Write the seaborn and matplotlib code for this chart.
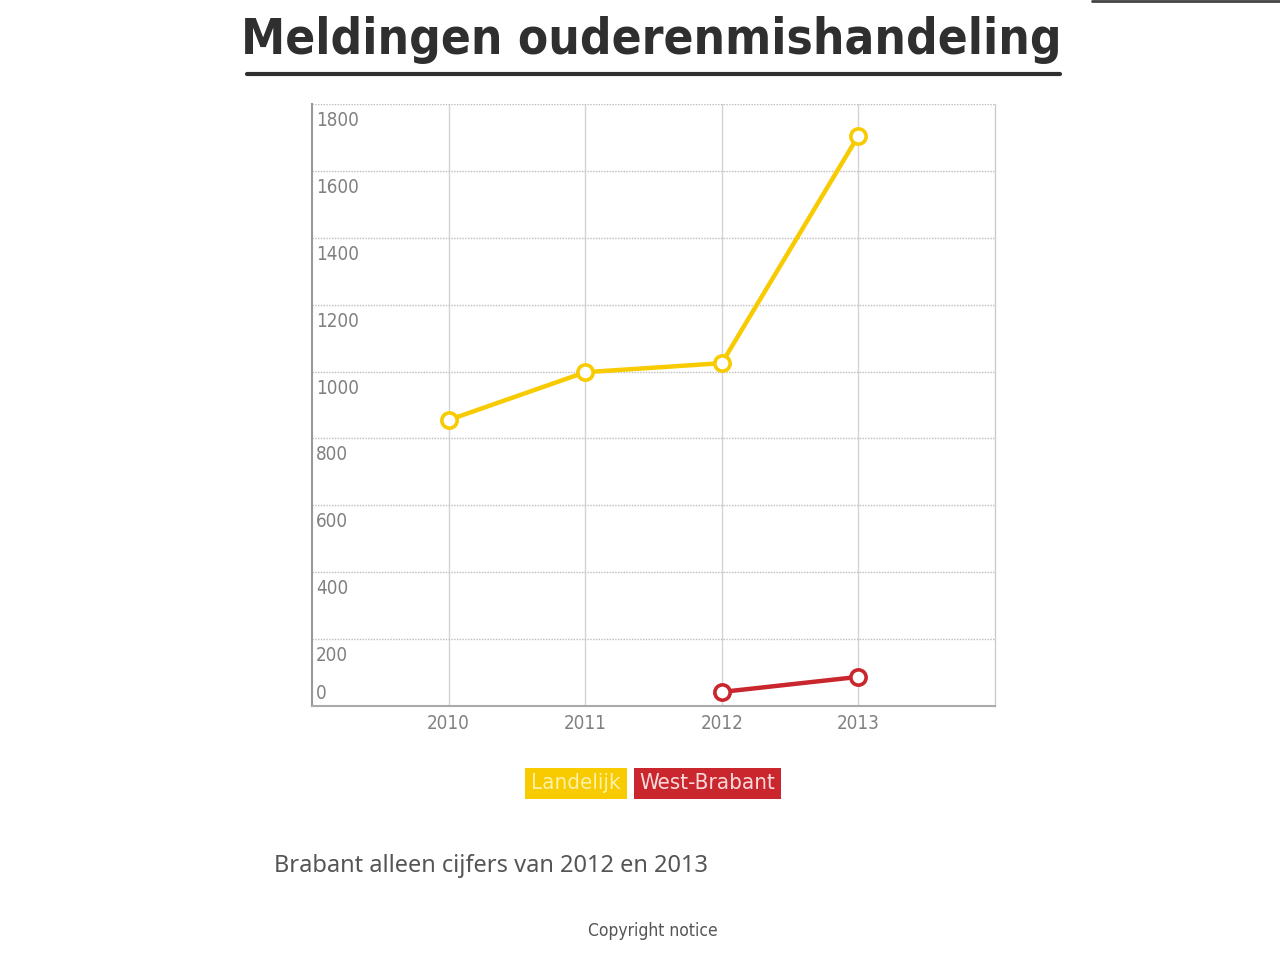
import pandas as pd
import matplotlib.pyplot as plt
import matplotlib.lines as mlines
import matplotlib.patches as mpatches
import matplotlib.transforms as mtransforms
import seaborn as sns

years = [2010, 2011, 2012, 2013]
landelijk = [855, 998, 1025, 1705]
west_brabant = [None, None, 42, 87]
series_names = ["Landelijk", "West-Brabant"]
series_colors = ["#F7CB00", "#C9272D"]
y_ticks = [0, 200, 400, 600, 800, 1000, 1200, 1400, 1600, 1800]

df = pd.DataFrame({
    "jaar": years * 2,
    "meldingen": landelijk + west_brabant,
    "reeks": [series_names[0]] * 4 + [series_names[1]] * 4,
}).dropna()

sns.set_theme(style="white")
plt.rcParams["font.family"] = ["DejaVu Sans"]
plt.rcParams["font.stretch"] = "condensed"

fig = plt.figure(figsize=(12.8, 9.6), dpi=100)
ax = fig.add_axes([0.2438, 0.2646, 0.7773 - 0.2438, 0.8917 - 0.2646])

sns.lineplot(data=df, x="jaar", y="meldingen", hue="reeks",
             palette=dict(zip(series_names, series_colors)),
             marker="o", markersize=11, markerfacecolor="white",
             linewidth=3.2, legend=False, ax=ax)
for line in ax.lines:
    line.set_markeredgecolor(line.get_color())
    line.set_markeredgewidth(2.6)
    line.set_clip_on(False)

ax.set_xlim(2009, 2014)
ax.set_ylim(0, 1800)
ax.set_xticks(years)
ax.set_yticks(y_ticks)
ax.set_yticklabels([str(t) for t in y_ticks])
ax.set_xlabel("")
ax.set_ylabel("")

ax.yaxis.grid(True, linestyle=(0, (1, 1)), color="#bbbbbb", linewidth=1)
ax.xaxis.grid(True, linestyle="-", color="#d4d4d4", linewidth=1)
ax.set_axisbelow(True)

ax.spines["top"].set_visible(False)
ax.spines["left"].set_color("#999999")
ax.spines["left"].set_linewidth(1.5)
ax.spines["bottom"].set_color("#aaaaaa")
ax.spines["bottom"].set_linewidth(1.5)
ax.spines["right"].set_color("#cccccc")
ax.spines["right"].set_linewidth(1)

ax.tick_params(axis="y", length=0, pad=-3, labelsize=13.5, labelcolor="#808080")
ax.tick_params(axis="x", length=0, pad=6, labelsize=13.5, labelcolor="#808080")
down = mtransforms.ScaledTranslation(0, -0.07, fig.dpi_scale_trans)
up = mtransforms.ScaledTranslation(0, 0.03, fig.dpi_scale_trans)
for lab, t in zip(ax.get_yticklabels(), y_ticks):
    lab.set_horizontalalignment("left")
    if t == 0:
        lab.set_verticalalignment("bottom")
        lab.set_transform(lab.get_transform() + up)
    else:
        lab.set_verticalalignment("top")
        lab.set_transform(lab.get_transform() + down)

# titel met onderstreping
fig.text(0.509, 0.958, "Meldingen ouderenmishandeling", ha="center", va="center",
         fontsize=35.5, fontweight="bold", color="#2f2f2f")
fig.add_artist(mlines.Line2D([0.193, 0.828], [0.9229, 0.9229], color="#2f2f2f", linewidth=3))
fig.add_artist(mlines.Line2D([0.853, 1.0], [0.999, 0.999], color="#444444", linewidth=2))

# legenda als gekleurde blokjes
legend_text = ["#FFF1A8", "#F9DADA"]
legend_boxes = [(525, 627), (634, 781)]
for name, col, tcol, (x0, x1) in zip(series_names, series_colors, legend_text, legend_boxes):
    fig.add_artist(mpatches.Rectangle((x0 / 1280, 1 - 799 / 960), (x1 - x0) / 1280, 31 / 960,
                                      transform=fig.transFigure, facecolor=col, edgecolor="none"))
    fig.text((x0 + x1) / 2 / 1280, 1 - 783 / 960, name, ha="center", va="center",
             fontsize=16, color=tcol)

fig.text(0.214, 0.098, "Brabant alleen cijfers van 2012 en 2013", ha="left", va="center",
         fontsize=17, color="#555555", family=["Noto Sans", "DejaVu Sans"], stretch="normal")
fig.text(0.51, 0.030, "Copyright notice", ha="center", va="center",
         fontsize=12.5, color="#555555")

fig.savefig("out.png", dpi=100, facecolor="white")
